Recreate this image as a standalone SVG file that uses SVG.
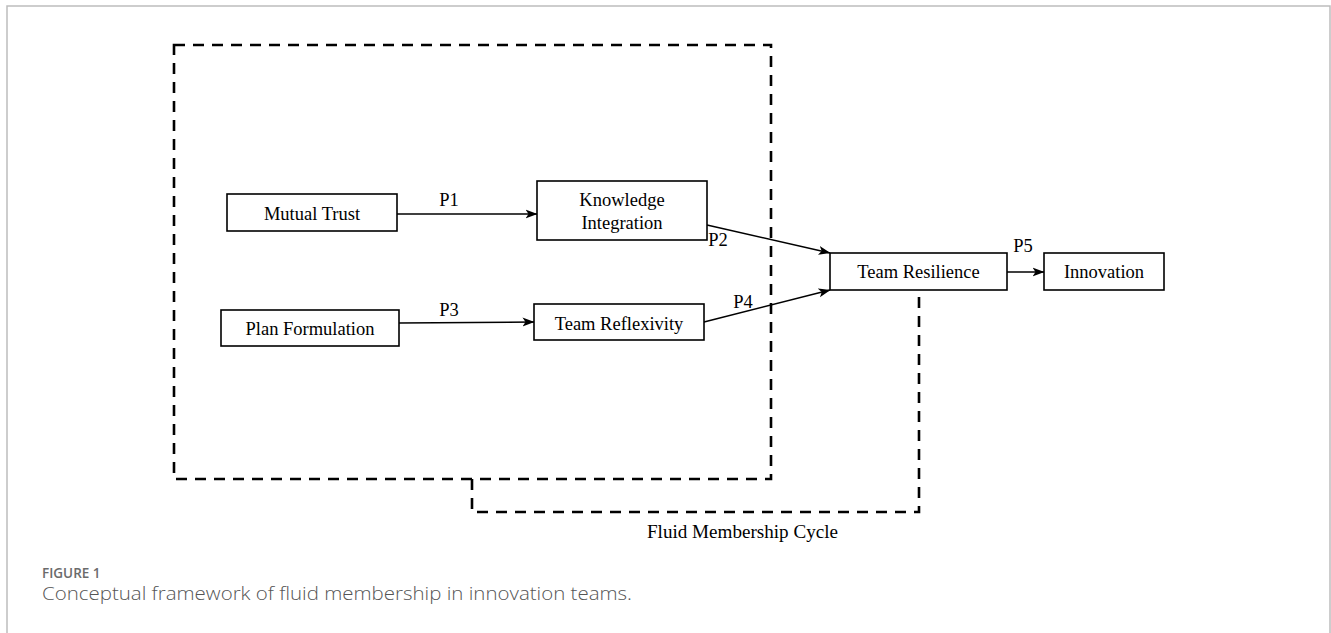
<svg xmlns="http://www.w3.org/2000/svg" width="1331" height="633" viewBox="0 0 1331 633">
  <defs>
    <marker id="arrow" viewBox="0 0 12 10" refX="11.5" refY="5" markerWidth="12" markerHeight="10" markerUnits="userSpaceOnUse" orient="auto">
      <path d="M0,0.5 L12,5 L0,9.5 L3,5 Z" fill="#000"/>
    </marker>
    <style>
      .box { fill: #fff; stroke: #000; stroke-width: 1.6; }
      .lbl { font-family: "Liberation Serif", "Times New Roman", serif; font-size: 18.5px; fill: #000; text-anchor: middle; }
      .edge { fill: none; stroke: #000; stroke-width: 1.6; marker-end: url(#arrow); }
      .dash { fill: none; stroke: #000; stroke-width: 2.6; stroke-dasharray: 11 8; }
      .frame { fill: none; stroke: #bdbdbd; stroke-width: 1.5; }
      .fig { font-family: "Open Sans", "Liberation Sans", sans-serif; font-size: 13.5px; font-weight: 600; fill: #6b6b6b; }
      .cap { font-family: "Open Sans", "Liberation Sans", sans-serif; font-size: 18px; font-weight: 300; fill: #555; }
    </style>
  </defs>

  <rect width="1331" height="633" fill="#fff"/>
  <path class="frame" d="M7,633 V6 H1330 V633"/>

  <!-- boundary of the fluid membership cycle -->
  <g id="cycle-boundary">
    <path class="dash" d="M174,45 H771 V479 H174 Z"/>
    <path class="dash" d="M472,479 V512 H919 V290"/>
    <text class="lbl" x="742.5" y="538" font-size="20" textLength="191" lengthAdjust="spacingAndGlyphs">Fluid Membership Cycle</text>
  </g>

  <!-- connectors -->
  <g id="connectors">
    <path class="edge" d="M397,214 H537"/>
    <path class="edge" d="M399,323 L534,322"/>
    <path class="edge" d="M707,225 L830,253"/>
    <path class="edge" d="M704,322 L830,290"/>
    <path class="edge" d="M1007,272 H1044"/>
    <text class="lbl" x="449" y="206">P1</text>
    <text class="lbl" x="449" y="316">P3</text>
    <text class="lbl" x="718" y="246">P2</text>
    <text class="lbl" x="743" y="308">P4</text>
    <text class="lbl" x="1023" y="252">P5</text>
  </g>

  <g id="mutual-trust">
    <rect class="box" x="227" y="194" width="170" height="37"/>
    <text class="lbl" x="312" y="220">Mutual Trust</text>
  </g>

  <g id="knowledge-integration">
    <rect class="box" x="537" y="181" width="170" height="59"/>
    <text class="lbl" x="622" y="206">Knowledge</text>
    <text class="lbl" x="622" y="229">Integration</text>
  </g>

  <g id="plan-formulation">
    <rect class="box" x="221" y="310" width="178" height="36"/>
    <text class="lbl" x="310" y="335">Plan Formulation</text>
  </g>

  <g id="team-reflexivity">
    <rect class="box" x="534" y="304" width="170" height="36"/>
    <text class="lbl" x="619" y="330">Team Reflexivity</text>
  </g>

  <g id="team-resilience">
    <rect class="box" x="830" y="253" width="177" height="37"/>
    <text class="lbl" x="918.5" y="278">Team Resilience</text>
  </g>

  <g id="innovation">
    <rect class="box" x="1044" y="253" width="120" height="37"/>
    <text class="lbl" x="1104" y="278">Innovation</text>
  </g>

  <!-- caption -->
  <text class="fig" x="42" y="578">FIGURE 1</text>
  <text class="cap" x="42" y="600" textLength="590" lengthAdjust="spacingAndGlyphs">Conceptual framework of fluid membership in innovation teams.</text>
</svg>
